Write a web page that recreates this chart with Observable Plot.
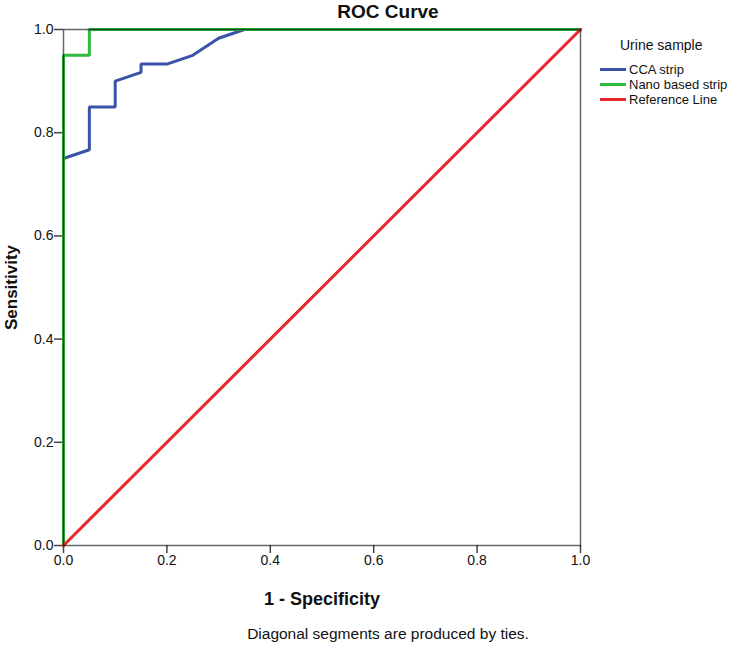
<!DOCTYPE html>
<html>
<head>
<meta charset="utf-8">
<script src="https://cdn.jsdelivr.net/npm/d3@7"></script>
<script src="https://cdn.jsdelivr.net/npm/@observablehq/plot@0.6"></script>
<style>
  body { margin: 0; background: #fff; font-family: "Liberation Sans", Arial, sans-serif; }
  #wrap { position: relative; width: 744px; height: 650px; }
  #legend { position: absolute; left: 600px; top: 37px; font-family: "Liberation Sans", Arial, sans-serif; color: #111; }
  #legend .ttl { font-size: 14px; margin-left: 20px; margin-bottom: 9px; }
  #legend .row { display: flex; align-items: center; height: 15px; font-size: 13px; }
  #legend .sw { width: 26px; height: 3px; margin-right: 3px; }
</style>
</head>
<body>
<div id="wrap"></div>
<script>
// CCA strip ROC curve
const ccaX = [0, 0, 0.05, 0.05, 0.10, 0.10, 0.15, 0.15, 0.20, 0.25, 0.30, 0.35, 1];
const ccaY = [0, 0.75, 0.767, 0.85, 0.85, 0.90, 0.917, 0.933, 0.933, 0.95, 0.983, 1, 1];
// Nano based strip ROC curve
const nanoX = [0, 0, 0.05, 0.05, 1];
const nanoY = [0, 0.95, 0.95, 1, 1];
// Reference line
const refX = [0, 1];
const refY = [0, 1];

const seriesNames = ["CCA strip", "Nano based strip", "Reference Line"];
const seriesColors = ["#3a52a8", "#2fba3e", "#e8262c"];
const ticks = [0, 0.2, 0.4, 0.6, 0.8, 1.0];

const toRows = (xs, ys, s) => xs.map((x, i) => ({x, y: ys[i], s}));
const cca = toRows(ccaX, ccaY, seriesNames[0]);
const nano = toRows(nanoX, nanoY, seriesNames[1]);
const ref = toRows(refX, refY, seriesNames[2]);

const font = "Liberation Sans, Arial, sans-serif";

const chart = Plot.plot({
  width: 744,
  height: 650,
  marginLeft: 63,
  marginRight: 164,
  marginTop: 29,
  marginBottom: 105,
  style: {fontFamily: font, background: "#fff", color: "#111"},
  x: {domain: [0, 1]},
  y: {domain: [0, 1]},
  marks: [
    Plot.axisX({ticks, tickFormat: d3.format(".1f"), tickSize: 8, tickPadding: 2, label: null, stroke: "#444", strokeWidth: 1.5}),
    Plot.axisY({ticks, tickFormat: d3.format(".1f"), tickSize: 9, tickPadding: 1, label: null, stroke: "#444", strokeWidth: 1.5}),
    Plot.line(cca, {x: "x", y: "y", stroke: seriesColors[0], strokeWidth: 3, strokeLinejoin: "miter"}),
    Plot.line(nano, {x: "x", y: "y", stroke: seriesColors[1], strokeWidth: 3, strokeLinejoin: "miter"}),
    Plot.line(ref, {x: "x", y: "y", stroke: seriesColors[2], strokeWidth: 3}),
    Plot.frame({stroke: "#000", strokeOpacity: 0.6, strokeWidth: 1.5}),
    Plot.text(["ROC Curve"], {frameAnchor: "top", lineAnchor: "middle", textAnchor: "middle", dx: 66, dy: -18, fontSize: 19, fontWeight: "bold"}),
    Plot.text(["1 - Specificity"], {frameAnchor: "bottom", lineAnchor: "middle", textAnchor: "middle", dx: 0, dy: 54, fontSize: 18, fontWeight: "bold"}),
    Plot.text(["Sensitivity"], {frameAnchor: "left", lineAnchor: "middle", textAnchor: "middle", dx: -52, dy: 0, rotate: -90, fontSize: 17, fontWeight: "bold"}),
    Plot.text(["Diagonal segments are produced by ties."], {frameAnchor: "bottom", lineAnchor: "middle", textAnchor: "middle", dx: 66, dy: 89, fontSize: 15.5})
  ]
});

// enlarge the axis tick labels
const tickTexts = new Set(ticks.map(d3.format(".1f")));
d3.select(chart).selectAll("text")
  .filter(function() { return tickTexts.has(this.textContent.trim()); })
  .attr("font-size", "14px").style("font-size", "14px");

const wrap = document.getElementById("wrap");
wrap.appendChild(chart);

const legend = d3.select(wrap).append("div").attr("id", "legend");
legend.append("div").attr("class", "ttl").text("Urine sample");
seriesNames.forEach((name, i) => {
  const row = legend.append("div").attr("class", "row");
  row.append("div").attr("class", "sw").style("background", seriesColors[i]);
  row.append("span").text(name);
});
</script>
</body>
</html>
